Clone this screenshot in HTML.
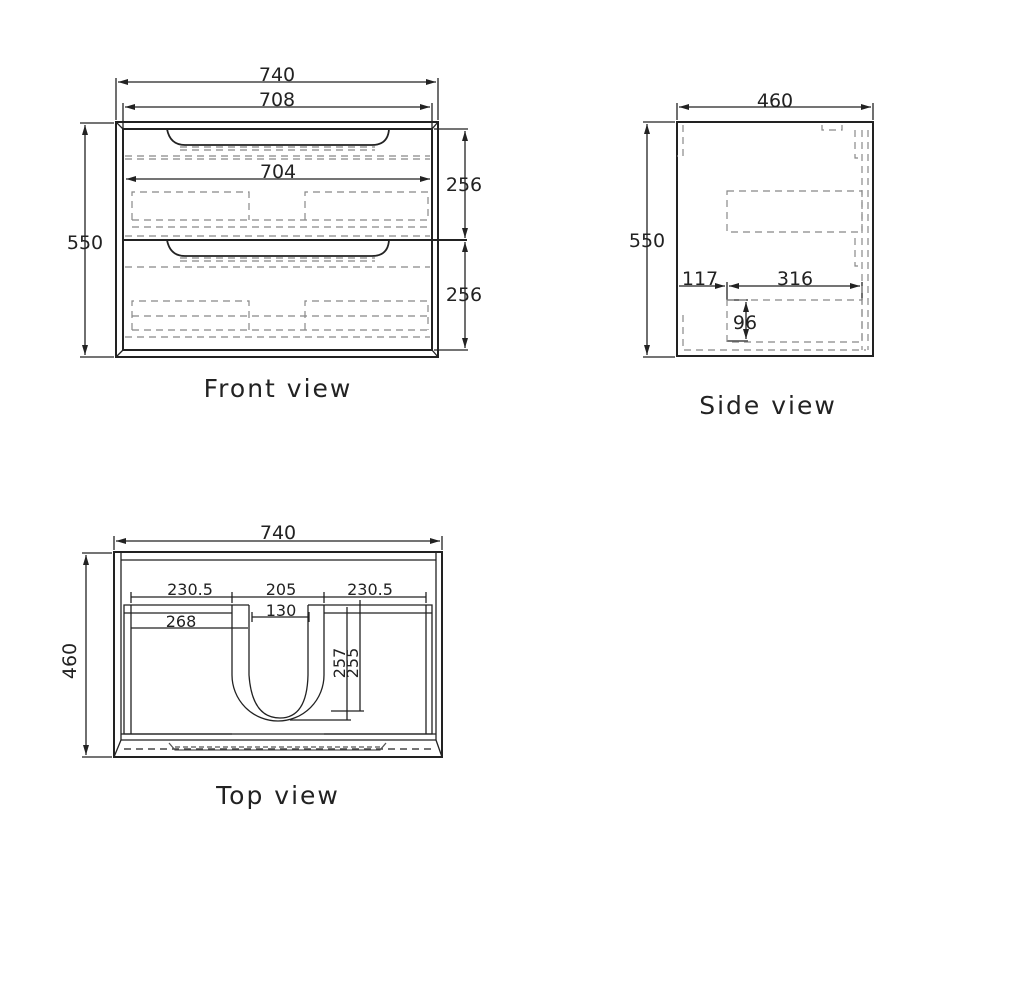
<!DOCTYPE html>
<html><head><meta charset="utf-8"><style>
html,body{margin:0;padding:0;background:#fff;}
svg{display:block;}
text{font-family:"DejaVu Sans","Liberation Sans",sans-serif;fill:#222;}
</style></head><body>
<svg width="1024" height="982" viewBox="0 0 1024 982" xmlns="http://www.w3.org/2000/svg">
<defs>
<marker id="a" markerWidth="10" markerHeight="6" refX="10" refY="3" orient="auto-start-reverse" markerUnits="userSpaceOnUse"><path d="M0,0 L10,3 L0,6 Z" fill="#222"/></marker>
</defs>
<g stroke="#222" fill="none" stroke-width="1.3">
<!-- FRONT VIEW -->
<rect x="116" y="122" width="322" height="235" stroke-width="2"/>
<rect x="123" y="129" width="309" height="221" stroke-width="2"/>
<line x1="116" y1="122" x2="123" y2="129"/><line x1="438" y1="122" x2="432" y2="129"/>
<line x1="116" y1="357" x2="123" y2="350"/><line x1="438" y1="357" x2="432" y2="350"/>
<line x1="123" y1="240" x2="467" y2="240" stroke-width="2"/>
<path d="M167,129 Q170,145 185,145 L372,145 Q388,145 389,129" stroke-width="1.8"/>
<path d="M167,240 Q170,256 185,256 L372,256 Q388,256 389,240" stroke-width="1.8"/>
<g stroke="#888" stroke-dasharray="7,5" stroke-width="1.2">
<line x1="180" y1="147" x2="375" y2="147"/><line x1="180" y1="150" x2="375" y2="150"/>
<line x1="125" y1="156" x2="430" y2="156"/><line x1="125" y1="159" x2="430" y2="159"/>
<path d="M132,220 L132,192 L249,192 L249,220"/><path d="M305,220 L305,192 L428,192 L428,220"/>
<line x1="132" y1="220" x2="428" y2="220"/><line x1="132" y1="227" x2="428" y2="227"/>
<line x1="125" y1="236" x2="430" y2="236"/>
<line x1="180" y1="258" x2="375" y2="258"/><line x1="180" y1="261" x2="375" y2="261"/>
<line x1="125" y1="267" x2="430" y2="267"/>
<path d="M132,330 L132,301 L249,301 L249,330"/><path d="M305,330 L305,301 L428,301 L428,330"/>
<line x1="132" y1="316" x2="428" y2="316"/><line x1="132" y1="330" x2="428" y2="330"/>
<line x1="125" y1="337" x2="430" y2="337"/>
</g>
<line x1="116" y1="78" x2="116" y2="120"/><line x1="438" y1="78" x2="438" y2="120"/>
<line x1="118" y1="82" x2="436" y2="82" marker-start="url(#a)" marker-end="url(#a)"/>
<line x1="123" y1="103" x2="123" y2="128"/><line x1="432" y1="103" x2="432" y2="128"/>
<line x1="125" y1="107" x2="430" y2="107" marker-start="url(#a)" marker-end="url(#a)"/>
<line x1="126" y1="179" x2="430" y2="179" marker-start="url(#a)" marker-end="url(#a)"/>
<line x1="80" y1="123" x2="114" y2="123"/><line x1="80" y1="357" x2="114" y2="357"/>
<line x1="85" y1="125" x2="85" y2="355" marker-start="url(#a)" marker-end="url(#a)"/>
<line x1="434" y1="129" x2="468" y2="129"/><line x1="434" y1="350" x2="468" y2="350"/>
<line x1="465" y1="131" x2="465" y2="238" marker-start="url(#a)" marker-end="url(#a)"/>
<line x1="465" y1="242" x2="465" y2="348" marker-start="url(#a)" marker-end="url(#a)"/>
<!-- SIDE VIEW -->
<rect x="677" y="122" width="196" height="234" stroke-width="2"/>
<line x1="677" y1="103" x2="677" y2="120"/><line x1="873" y1="103" x2="873" y2="120"/>
<line x1="679" y1="107" x2="871" y2="107" marker-start="url(#a)" marker-end="url(#a)"/>
<line x1="643" y1="122" x2="675" y2="122"/><line x1="643" y1="357" x2="675" y2="357"/>
<line x1="647" y1="124" x2="647" y2="355" marker-start="url(#a)" marker-end="url(#a)"/>
<line x1="679" y1="286" x2="725" y2="286" marker-end="url(#a)"/>
<line x1="727" y1="282" x2="727" y2="300"/><line x1="862" y1="282" x2="862" y2="300"/>
<line x1="729" y1="286" x2="860" y2="286" marker-start="url(#a)" marker-end="url(#a)"/>
<line x1="727" y1="300" x2="748" y2="300"/><line x1="727" y1="341" x2="748" y2="341"/>
<line x1="746" y1="302" x2="746" y2="339" marker-start="url(#a)" marker-end="url(#a)"/>
<g stroke="#888" stroke-dasharray="7,5" stroke-width="1.2">
<rect x="727" y="191" width="135" height="41"/>
<rect x="727" y="300" width="135" height="42"/>
<path d="M683,125 L683,156 L677,156"/><path d="M683,315 L683,350 L866,350"/>
<path d="M822,125 L822,130 L842,130 L842,125"/>
<path d="M855,130 L855,158 L862,158"/><path d="M855,238 L855,266 L862,266"/>
<line x1="862" y1="130" x2="862" y2="350"/><line x1="868" y1="130" x2="868" y2="350"/>
</g>
<!-- TOP VIEW -->
<rect x="114" y="552" width="328" height="205" stroke-width="2"/>
<line x1="121" y1="552" x2="121" y2="740"/><line x1="436" y1="552" x2="436" y2="740"/>
<line x1="121" y1="560" x2="436" y2="560"/>
<line x1="121" y1="740" x2="114" y2="757"/><line x1="436" y1="740" x2="442" y2="757"/>
<line x1="121" y1="740" x2="436" y2="740"/>
<path d="M232,734 L124,734 L124,605 L232,605"/><path d="M324,605 L432,605 L432,734 L324,734"/>
<line x1="131" y1="605" x2="131" y2="734"/><line x1="426" y1="605" x2="426" y2="734"/>
<line x1="124" y1="613" x2="232" y2="613"/><line x1="324" y1="613" x2="432" y2="613"/>
<line x1="232" y1="605" x2="249" y2="605"/><line x1="308" y1="605" x2="324" y2="605"/>
<line x1="249" y1="605" x2="249" y2="610"/><line x1="308" y1="605" x2="308" y2="610"/>
<path d="M232,605 L232,675 A46,46 0 0 0 324,675 L324,605"/>
<path d="M249,610 L249,675 Q252,718 280,718 Q307,718 308,675 L308,610"/>
<line x1="114" y1="536" x2="114" y2="550"/><line x1="442" y1="536" x2="442" y2="550"/>
<line x1="116" y1="541" x2="440" y2="541" marker-start="url(#a)" marker-end="url(#a)"/>
<line x1="82" y1="553" x2="112" y2="553"/><line x1="82" y1="757" x2="112" y2="757"/>
<line x1="86" y1="555" x2="86" y2="755" marker-start="url(#a)" marker-end="url(#a)"/>
<line x1="131" y1="592" x2="131" y2="603"/><line x1="232" y1="592" x2="232" y2="603"/>
<line x1="324" y1="592" x2="324" y2="603"/><line x1="426" y1="592" x2="426" y2="603"/>
<line x1="131" y1="597" x2="426" y2="597"/>
<line x1="131" y1="628" x2="248" y2="628"/>
<line x1="252" y1="612" x2="252" y2="622"/><line x1="309" y1="612" x2="309" y2="622"/>
<line x1="252" y1="617" x2="309" y2="617"/>
<line x1="347" y1="607" x2="347" y2="720"/><line x1="360" y1="600" x2="360" y2="711"/>
<line x1="331" y1="711" x2="364" y2="711"/><line x1="290" y1="720" x2="351" y2="720"/>
<line x1="121" y1="734" x2="436" y2="734"/>
<line x1="124" y1="749" x2="432" y2="749" stroke-dasharray="7,5"/>
<path d="M169,743 L175,750 L380,750 L386,743" stroke="#555"/>
<line x1="175" y1="747" x2="380" y2="747" stroke-dasharray="5,3" stroke="#555"/>
</g>
<g font-size="19" text-anchor="middle">
<text x="277" y="81">740</text>
<text x="277" y="106">708</text>
<text x="278" y="178">704</text>
<text x="85" y="249">550</text>
<text x="464" y="191">256</text>
<text x="464" y="301">256</text>
<text x="775" y="107">460</text>
<text x="647" y="247">550</text>
<text x="700" y="285">117</text>
<text x="795" y="285">316</text>
<text x="745" y="329">96</text>
<text x="278" y="539">740</text>
<text x="76" y="661" transform="rotate(-90 76 661)">460</text>
</g>
<g font-size="16" text-anchor="middle">
<text x="190" y="595">230.5</text>
<text x="281" y="595">205</text>
<text x="370" y="595">230.5</text>
<text x="281" y="616">130</text>
<text x="181" y="627">268</text>
<text x="345" y="663" transform="rotate(-90 345 663)">257</text>
<text x="358" y="663" transform="rotate(-90 358 663)">255</text>
</g>
<g font-size="25" text-anchor="middle" letter-spacing="2">
<text x="278" y="397">Front  view</text>
<text x="768" y="414">Side  view</text>
<text x="278" y="804">Top view</text>
</g>
</svg>
</body></html>
